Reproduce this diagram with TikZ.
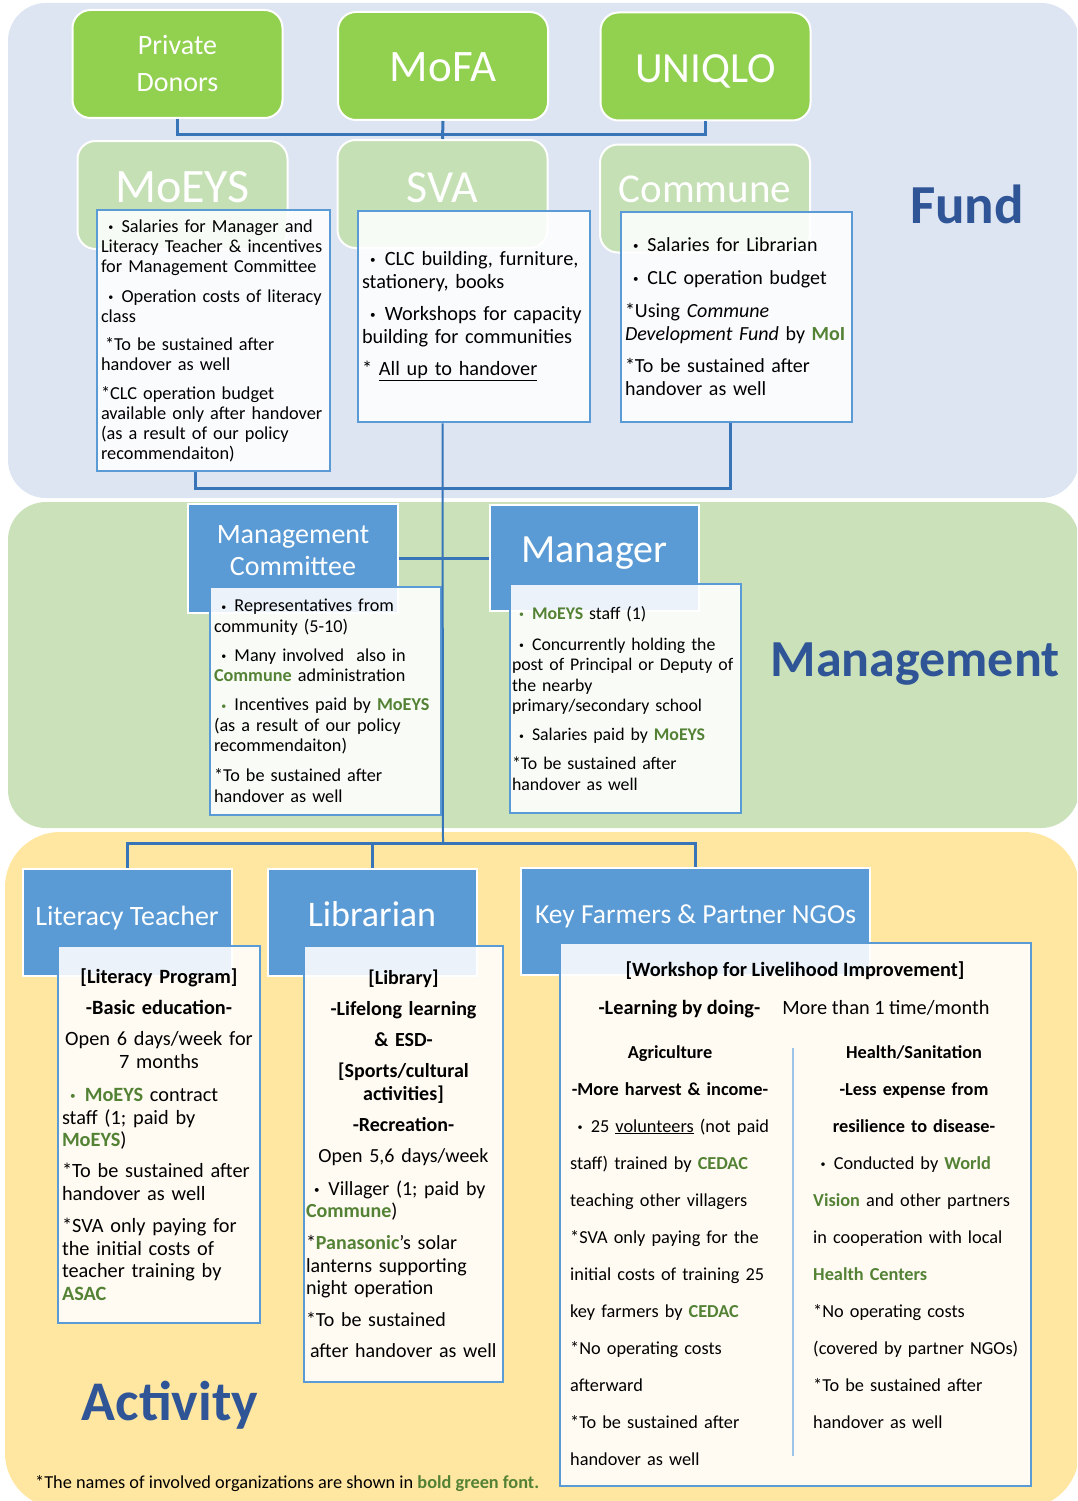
\documentclass[tikz,border=0pt]{standalone}
\usepackage{fontspec}
\setmainfont{Carlito}
\usetikzlibrary{positioning}

\definecolor{fundbg}{RGB}{221,228,242}
\definecolor{mgmtbg}{RGB}{203,225,186}
\definecolor{actbg}{RGB}{255,230,161}
\definecolor{donorgreen}{RGB}{146,208,80}
\definecolor{sourcegreen}{RGB}{197,224,180}
\definecolor{headblue}{RGB}{91,155,213}
\definecolor{linkblue}{RGB}{55,116,184}
\definecolor{titleblue}{RGB}{47,85,151}
\definecolor{orggreen}{RGB}{84,130,53}

% organisation names in bold green
\newcommand{\orgname}[1]{\textcolor{orggreen}{\textbf{#1}}}
% small bullet in front of list items
\newcommand{\dotmark}[1][black]{\hspace*{0.4em}\textcolor{#1}{\raisebox{0.2ex}{\scalebox{0.55}{\textbullet}}}\hspace{0.45em}}
\newcommand{\fsize}[2]{\fontsize{#1}{#2}\selectfont}

\begin{document}
\begin{tikzpicture}
        [x=1pt, y=-1pt,
        band/.style={rounded corners=38pt},
        donor/.style={rounded corners=18pt, fill=donorgreen, draw=white, line width=2pt,
            minimum width=210pt, minimum height=108pt},
        source/.style={donor, fill=sourcegreen},
        head/.style={fill=headblue, draw=white, line width=2pt,
            minimum width=209pt, minimum height=107pt},
        info/.style={fill=white, fill opacity=0.88, text opacity=1, draw=headblue,
            draw opacity=1, line width=2.5pt, inner sep=4pt, align=left},
        boxtext/.style={text=white, inner sep=0pt, anchor=base},
        coltext/.style={inner sep=0pt, anchor=base west, align=left, font=\fsize{18.3}{37}},
        link/.style={linkblue, line width=3pt},
        trunk/.style={linkblue, line width=2pt},
        bigtitle/.style={text=titleblue, inner sep=0pt, anchor=base}]

        \clip (0,0) rectangle (1077,1501);

        % --- background bands ---
        \fill[band, fundbg] (8,3) rectangle (1079,498);
        \fill[band, mgmtbg] (8,502) rectangle (1079,828);
        \fill[band, actbg, rounded corners=55pt] (5,832) rectangle (1079,1508);

        % --- donors ---
        \node[donor] (pd) at (177.5,64) {};
        \node[donor] (mofa) at (443,66) {};
        \node[donor] (uq) at (705.5,66.5) {};
        \node[boxtext, text width=200pt, align=center, font=\fsize{28}{37}] (pdtxt) at ([yshift=9pt]pd.center) {Private\\Donors};
        \node[boxtext, font=\fsize{45}{50}] (mofatxt) at ([yshift=-16pt]mofa.center) {MoFA};
        \node[boxtext, font=\fsize{43}{50}] (uqtxt) at ([yshift=-16.5pt]uq.center) {UNIQLO};

        % --- fund sources ---
        \node[source] (moeys) at (182.5,195) {};
        \node[source] (sva) at (442.5,194) {};
        \node[source] (comm) at (705,198.5) {};
        \node[boxtext, font=\fsize{48}{50}] (moeystxt) at ([yshift=-7pt]moeys.center) {MoEYS};
        \node[boxtext, font=\fsize{46}{50}] (svatxt) at ([yshift=-8pt]sva.center) {SVA};
        \node[boxtext, font=\fsize{41}{50}] (commtxt) at ([yshift=-3.5pt]comm.center) {Commune};

        \node[info, minimum width=233pt, minimum height=261pt, text width=225pt, font=\fsize{18.3}{20}] (moeysinfo) at (213.5,340.5)
            {\dotmark Salaries for Manager and\\
            Literacy Teacher \& incentives\\
            for Management Committee\\[10pt]
            \dotmark Operation costs of literacy\\
            class\\[8pt]
            \hspace*{4pt}*To be sustained after\\
            handover as well\\[9pt]
            *CLC operation budget\\
            available only after handover\\
            (as a result of our policy\\
            recommendaiton)};
        \node[info, minimum width=232pt, minimum height=211pt, text width=224pt, font=\fsize{20.3}{23}] (svainfo) at (474,316.5)
            {\dotmark CLC building, furniture,\\
            stationery, books\\[9pt]
            \dotmark Workshops for capacity\\
            building for communities\\[9pt]
            * \underline{All up to handover}};
        \node[info, minimum width=231pt, minimum height=210pt, text width=223pt, font=\fsize{20}{23}] (comminfo) at (736.5,317)
            {\dotmark Salaries for Librarian\\[10pt]
            \dotmark CLC operation budget\\[10pt]
            *Using \textit{Commune}\\
            \textit{Development Fund} by \orgname{MoI}\\[9pt]
            *To be sustained after\\
            handover as well};

        % --- management ---
        \node[head, minimum width=210pt, minimum height=109pt] (mcom) at (293,558) {};
        \node[head, minimum height=106pt] (mgr) at (594.5,558) {};
        \node[boxtext, text width=200pt, align=center, font=\fsize{28}{32}] (mcomtxt) at ([yshift=15pt]mcom.center) {Management\\Committee};
        \node[boxtext, font=\fsize{40}{46}] (mgrtxt) at ([yshift=-4pt]mgr.center) {Manager};

        \node[info, minimum width=231pt, minimum height=228pt, text width=223pt, font=\fsize{18.2}{20.5}] (mcominfo) at (325.5,701)
            {\dotmark Representatives from\\
            community (5-10)\\[8.5pt]
            \dotmark Many involved~ also in\\
            \orgname{Commune} administration\\[8.5pt]
            \dotmark[orggreen]Incentives paid by \orgname{MoEYS}\\
            (as a result of our policy\\
            recommendaiton)\\[9.5pt]
            *To be sustained after\\
            handover as well};
        \node[info, minimum width=231pt, minimum height=229pt, inner sep=2pt, text width=227pt, font=\fsize{17.8}{20.5}] (mgrinfo) at (625.5,698.5)
            {\dotmark[orggreen]\orgname{MoEYS} staff (1)\\[10.5pt]
            \dotmark Concurrently holding the\\
            post of Principal or Deputy of\\
            the nearby\\
            primary/secondary school\\[8.5pt]
            \dotmark Salaries paid by \orgname{MoEYS}\\[8.5pt]
            *To be sustained after\\
            handover as well};

        % --- activities ---
        \node[head] (lit) at (127,922) {};
        \node[head] (lib) at (372,922.5) {};
        \node[head, minimum width=349pt] (kf) at (695.5,921.5) {};
        \node[boxtext, font=\fsize{28}{32}] (littxt) at ([yshift=-3pt]lit.center) {Literacy Teacher};
        \node[boxtext, font=\fsize{36}{40}] (libtxt) at ([yshift=-3.5pt]lib.center) {Librarian};
        \node[boxtext, font=\fsize{27.5}{32}] (kftxt) at ([yshift=-1.5pt]kf.center) {Key Farmers \& Partner NGOs};

        \node[info, minimum width=202pt, minimum height=377pt, text width=194pt, font=\fsize{20.3}{22.5}] (litinfo) at (159,1134.5)
            {{\centering\textbf{[Literacy Program]}\\[8.5pt]
            \textbf{-Basic education-}\\[8.5pt]
            Open 6 days/week for\\
            7 months\par}
            \vspace{11pt}
            \noindent\dotmark[orggreen]\orgname{MoEYS} contract\\
            staff (1; paid by\\
            \orgname{MoEYS})\\[8.5pt]
            *To be sustained after\\
            handover as well\\[10pt]
            *SVA only paying for\\
            the initial costs of\\
            teacher training by\\
            \orgname{ASAC}};
        \node[info, minimum width=199pt, minimum height=436pt, inner sep=2pt, text width=195pt, font=\fsize{20}{22.5}] (libinfo) at (403.5,1164)
            {{\centering\textbf{[Library]}\\[8.5pt]
            \textbf{-Lifelong learning}\\[9pt]
            \textbf{\& ESD-}\\[8.5pt]
            \textbf{[Sports/cultural}\\
            \textbf{activities]}\\[8.5pt]
            \textbf{-Recreation-}\\[8.5pt]
            Open 5,6 days/week\par}
            \vspace{10.5pt}
            \noindent\dotmark Villager (1; paid by\\
            \orgname{Commune})\\[9.5pt]
            *\orgname{Panasonic}'s solar\\
            lanterns supporting\\
            night operation\\[9.5pt]
            *To be sustained\\[8.5pt]
            \hspace*{4pt}after handover as well};
        \node[info, minimum width=471pt, minimum height=543pt] (kfinfo) at (795.5,1214.5) {};

        \node[inner sep=0pt, anchor=base, font=\bfseries\fsize{20.3}{24}] (kftitle) at (795,976) {[Workshop for Livelihood Improvement]};
        \node[inner sep=0pt, anchor=base, font=\fsize{20.3}{24}] (kfpace) at (794,1014) {\textbf{-Learning by doing-}\hspace{22pt}More than 1 time/month};
        \node[coltext, anchor=base, text width=200pt, align=center, font=\bfseries\fsize{18.3}{37}] (agrihead) at (670,1058)
            {Agriculture\\-More harvest \& income-};
        \node[coltext, text width=215pt] (agribody) at (570,1132)
            {\dotmark 25 \underline{volunteers} (not paid\\
            staff) trained by \orgname{CEDAC}\\
            teaching other villagers\\{}*SVA only paying for the\\
            initial costs of training 25\\
            key farmers by \orgname{CEDAC}\\{}*No operating costs\\
            afterward\\{}*To be sustained after\\
            handover as well};
        \node[coltext, anchor=base, text width=200pt, align=center, font=\bfseries\fsize{18.3}{37}] (healthhead) at (914,1058)
            {Health/Sanitation\\-Less expense from\\resilience to disease-};
        \node[coltext, text width=210pt] (healthbody) at (813,1169)
            {\dotmark Conducted by \orgname{World}\\
            \orgname{Vision} and other partners\\
            in cooperation with local\\
            \orgname{Health Centers}\\{}*No operating costs\\
            (covered by partner NGOs)\\{}*To be sustained after\\
            handover as well};
        \coordinate (septop) at (793,1048);
        \coordinate (sepbot) at (793,1456);
        \draw[headblue!60, line width=2pt] (septop) -- (sepbot);

        % --- connectors ---
        \coordinate (fundbus) at (443,135);
        \coordinate (fundlow) at (443,488);
        \coordinate (actbus) at (443,843);
        \draw[link] (pd.south) |- (fundbus) -| (uq.south);
        \draw[link] (mofa.south) -- (sva.north);
        \draw[link] ([xshift=100pt]moeysinfo.south west) |- (fundlow) -| ([xshift=111pt]comminfo.south west);
        \draw[trunk] (sva.center |- svainfo.south) -- (actbus);
        \draw[link] (mcom.east) -- (mgr.west);
        \draw[link] (lit.north) |- (actbus) -| (kf.north);
        \draw[link] (lib.north) -- (lib.north |- actbus);

        % --- layer labels ---
        \node[bigtitle, font=\bfseries\fsize{55}{60}] (fundlbl) at (967,223) {Fund};
        \node[bigtitle, font=\bfseries\fsize{52}{60}] (mgmtlbl) at (915,676) {Management};
        \node[bigtitle, font=\bfseries\fsize{56}{60}] (actlbl) at (170,1420) {Activity};

        \node[inner sep=0pt, anchor=base west, font=\fsize{18.3}{20}] (note) at (35,1488)
            {*The names of involved organizations are shown in \orgname{bold green font.}};
\end{tikzpicture}
\end{document}
